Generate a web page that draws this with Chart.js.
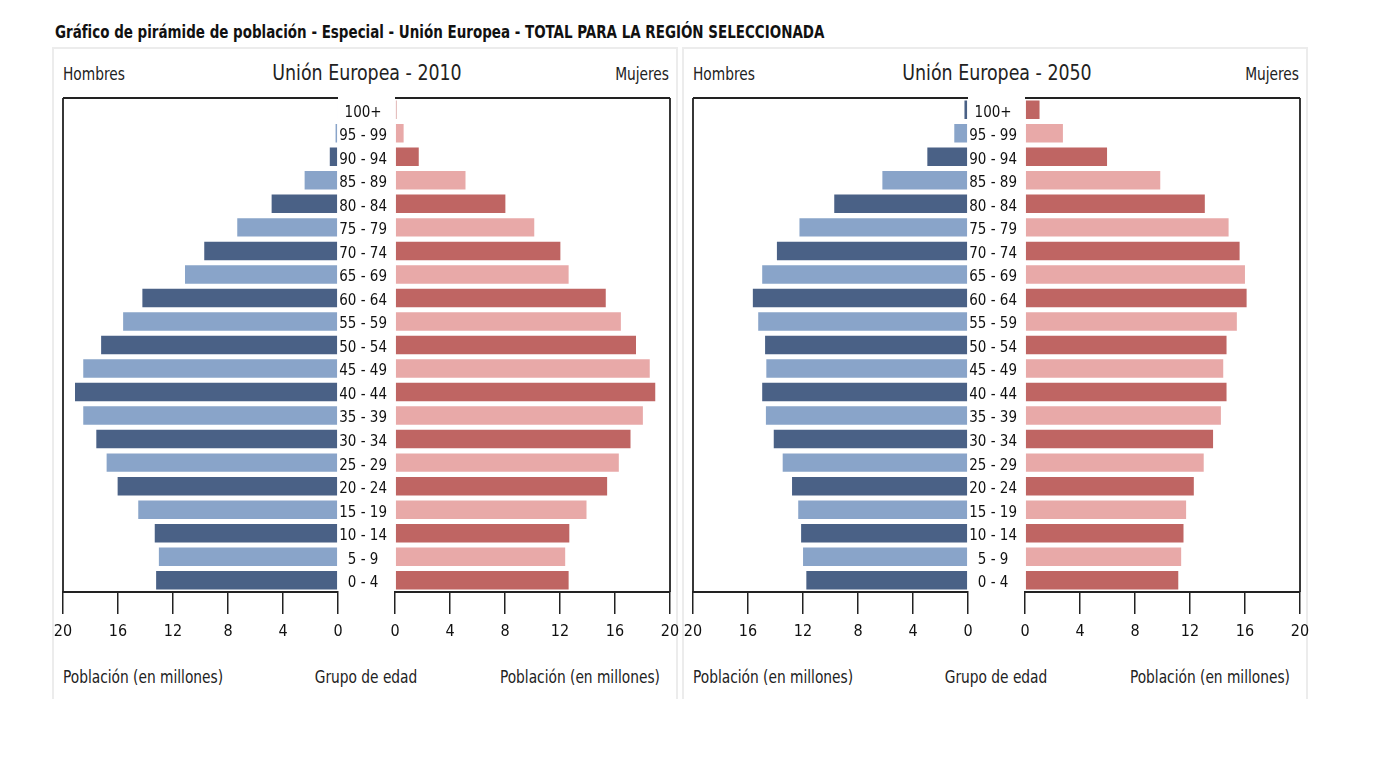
<!doctype html>
<html lang="es">
<head>
  <meta charset="utf-8">
  <title>Gráfico de pirámide de población - Unión Europea</title>
  <script src="https://cdn.jsdelivr.net/npm/chart.js@4.4.1/dist/chart.umd.min.js"></script>
  <style>
    body { margin: 0; background: #fff; width: 1388px; height: 768px; position: relative; overflow: hidden;
           font-family: "DejaVu Sans Condensed", "Liberation Sans Narrow", "DejaVu Sans", sans-serif; color: #222; }
    .abs { position: absolute; white-space: nowrap; transform-origin: 0 0; }
    .heading { left: 55px; top: 22px; font: bold 17px "DejaVu Sans Condensed", sans-serif; color: #111; transform: scaleX(0.88); }
    .panel { position: absolute; top: 47px; width: 626px; height: 652px; border: 2px solid #ececec; border-bottom: none; box-sizing: border-box; }
    .ptitle { font-size: 22px; top: 60px; transform: scaleX(0.88) translateX(-50%); color: #222; }
    .side { font-size: 17px; top: 64px; transform: scaleX(0.9); }
    .foot { font-size: 17px; top: 667px; transform: scaleX(0.9); }
    canvas { position: absolute; }
  </style>
</head>
<body>
  <div class="abs heading">Gráfico de pirámide de población - Especial - Unión Europea - TOTAL PARA LA REGIÓN SELECCIONADA</div>

  <div class="panel" style="left:52px"></div>
  <div class="panel" style="left:682px"></div>

  <div id="texts"></div>

  <canvas id="men2010"></canvas>
  <canvas id="women2010"></canvas>
  <canvas id="men2050"></canvas>
  <canvas id="women2050"></canvas>

  <script>
    // grupos de edad, de arriba hacia abajo
    var ageGroups = ['100+', '95 - 99', '90 - 94', '85 - 89', '80 - 84', '75 - 79', '70 - 74',
                     '65 - 69', '60 - 64', '55 - 59', '50 - 54', '45 - 49', '40 - 44', '35 - 39',
                     '30 - 34', '25 - 29', '20 - 24', '15 - 19', '10 - 14', '5 - 9', '0 - 4'];

    // población en millones
    var hombres2010 = [0.05, 0.25, 0.67, 2.5, 4.9, 7.4, 9.8, 11.2, 14.3, 15.7, 17.3, 18.6, 19.2, 18.6,
                       17.65, 16.9, 16.1, 14.6, 13.4, 13.1, 13.3];
    var mujeres2010 = [0.15, 0.7, 1.8, 5.2, 8.1, 10.2, 12.1, 12.7, 15.4, 16.5, 17.6, 18.6, 19.0, 18.1,
                       17.2, 16.35, 15.5, 14.0, 12.75, 12.45, 12.7];
    var hombres2050 = [0.33, 1.07, 3.03, 6.3, 9.8, 12.33, 13.97, 15.04, 15.72, 15.33, 14.83, 14.74, 15.04,
                       14.77, 14.2, 13.55, 12.87, 12.42, 12.21, 12.07, 11.83];
    var mujeres2050 = [1.13, 2.83, 6.04, 9.91, 13.15, 14.88, 15.68, 16.07, 16.19, 15.48, 14.73, 14.49, 14.73,
                       14.32, 13.75, 13.07, 12.35, 11.79, 11.6, 11.43, 11.22];

    var panelTitles = ['Unión Europea - 2010', 'Unión Europea - 2050'];

    var axisColor = '#222';
    var fontFam = '"DejaVu Sans Condensed", "Liberation Sans Narrow", sans-serif';

    function colorsFor(dark, light) {
      return ageGroups.map(function(g, i) { return i % 2 === 0 ? dark : light; });
    }

    // marco: línea superior y lado exterior del área
    var framePlugin = {
      id: 'frame',
      afterDraw: function(chart, args, opts) {
        var a = chart.chartArea, ctx = chart.ctx;
        ctx.save();
        ctx.strokeStyle = axisColor;
        ctx.lineWidth = 1.8;
        ctx.beginPath();
        var x = opts.side === 'left' ? a.left : a.right;
        ctx.moveTo(a.left, a.top);
        ctx.lineTo(a.right, a.top);
        ctx.moveTo(x, a.top);
        ctx.lineTo(x, a.bottom);
        ctx.stroke();
        ctx.restore();
      }
    };

    function place(id, left, top, w, h) {
      var c = document.getElementById(id);
      c.style.left = left + 'px';
      c.style.top = top + 'px';
      c.style.width = w + 'px';
      c.style.height = h + 'px';
      c.width = w;
      c.height = h;
      return c;
    }

    function xScale(reverse) {
      return {
        type: 'linear', min: 0, max: 20, reverse: reverse,
        ticks: { stepSize: 4, color: '#111', font: { family: fontFam, size: 16 }, padding: 8, maxRotation: 0 },
        grid: { drawOnChartArea: false, drawTicks: true, tickLength: 22, color: axisColor, lineWidth: 1.5 },
        border: { display: true, color: axisColor, width: 2 },
        afterFit: function(s) {
          s.height = 56;
          s.paddingLeft = 0;
          s.paddingRight = 0;
        }
      };
    }

    function drawPanel(off, men, women, idMen, idWomen) {
      // Hombres (eje invertido)
      new Chart(place(idMen, 51 + off, 90, 295, 558), {
        type: 'bar',
        data: { labels: ageGroups, datasets: [{ data: men, backgroundColor: colorsFor('#4a6186', '#89a4c9'),
                borderColor: 'rgba(255,255,255,0.5)', borderWidth: 1,
                categoryPercentage: 1, barPercentage: 0.87 }] },
        options: {
          indexAxis: 'y', responsive: false, animation: false,
          layout: { padding: { left: 12, right: 8, top: 8, bottom: 0 } },
          plugins: { legend: { display: false }, tooltip: { enabled: false }, frame: { side: 'left' } },
          scales: { x: xScale(true), y: { display: false } }
        },
        plugins: [framePlugin]
      });
      // Mujeres, con los grupos de edad en el eje y
      new Chart(place(idWomen, 334 + off, 90, 348, 558), {
        type: 'bar',
        data: { labels: ageGroups, datasets: [{ data: women, backgroundColor: colorsFor('#bf6563', '#e8a9a8'),
                borderColor: 'rgba(255,255,255,0.5)', borderWidth: 1,
                categoryPercentage: 1, barPercentage: 0.87 }] },
        options: {
          indexAxis: 'y', responsive: false, animation: false,
          layout: { padding: { left: 4, right: 12, top: 8, bottom: 0 } },
          plugins: { legend: { display: false }, tooltip: { enabled: false }, frame: { side: 'right' } },
          scales: {
            x: xScale(false),
            y: {
              ticks: { color: '#111', font: { family: fontFam, size: 15 }, crossAlign: 'center', padding: 0, labelOffset: 3 },
              grid: { display: false }, border: { display: false },
              afterFit: function(s) {
                s.width = 57;
                s.paddingTop = 0;
                s.paddingBottom = 0;
              }
            }
          }
        },
        plugins: [framePlugin]
      });
    }

    function addText(cls, text, left, styleExtra) {
      var d = document.createElement('div');
      d.className = 'abs ' + cls;
      d.textContent = text;
      d.style.left = left + 'px';
      if (styleExtra) d.style.cssText += styleExtra;
      document.getElementById('texts').appendChild(d);
    }

    [0, 630].forEach(function(off, i) {
      addText('side', 'Hombres', 63 + off);
      addText('side', 'Mujeres', 669 + off, 'transform: scaleX(0.9) translateX(-100%);');
      addText('ptitle', panelTitles[i], 367 + off);
      addText('foot', 'Población (en millones)', 63 + off);
      addText('foot', 'Grupo de edad', 366 + off, 'transform: scaleX(0.9) translateX(-50%);');
      addText('foot', 'Población (en millones)', 660 + off, 'transform: scaleX(0.9) translateX(-100%);');
    });

    drawPanel(0, hombres2010, mujeres2010, 'men2010', 'women2010');
    drawPanel(630, hombres2050, mujeres2050, 'men2050', 'women2050');
  </script>
</body>
</html>
